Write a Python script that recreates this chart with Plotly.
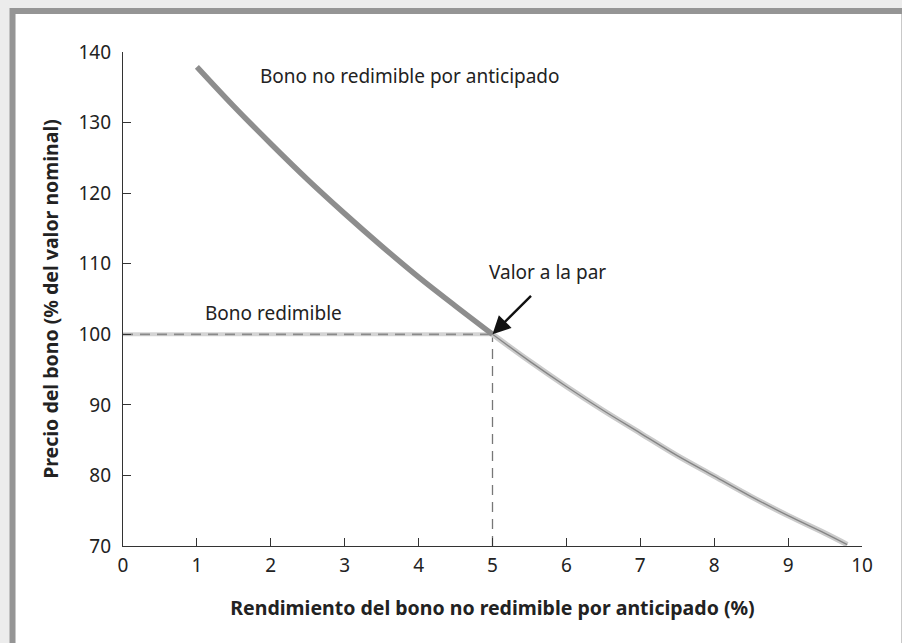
import plotly.graph_objects as go

# rendimiento (%) y precio (% del valor nominal)
rend_alto = [1.0, 1.5, 2.0, 2.5, 3.0, 3.5, 4.0, 4.5, 5.0]
precio_alto = [137.9, 132.3, 127.0, 121.9, 117.1, 112.5, 108.1, 104.0, 100.0]
rend_bajo = [5.0, 5.5, 6.0, 6.5, 7.0, 7.5, 8.0, 8.5, 9.0, 9.5, 9.8]
precio_bajo = [100.0, 96.2, 92.6, 89.2, 86.0, 82.8, 79.9, 77.0, 74.3, 71.8, 70.2]
par_x = [0, 5]
par_y = [100, 100]
vert_x = [5, 5]
vert_y = [70, 100]

font = "Noto Sans"
fig = go.Figure()

# linea horizontal (bono redimible): banda clara + guiones
fig.add_trace(go.Scatter(x=par_x, y=par_y, mode="lines",
                         line=dict(color="#d4d4d4", width=4), hoverinfo="skip"))
fig.add_trace(go.Scatter(x=par_x, y=par_y, mode="lines",
                         line=dict(color="#8a8a8a", width=1.8, dash="10px,7px"), hoverinfo="skip"))
fig.add_trace(go.Scatter(x=vert_x, y=vert_y, mode="lines",
                         line=dict(color="#777777", width=1.3, dash="10px,7px"), hoverinfo="skip"))

# curva bono no redimible
fig.add_trace(go.Scatter(x=rend_bajo, y=precio_bajo, mode="lines",
                         line=dict(color="#cbcbcb", width=5.5, shape="spline"), hoverinfo="skip"))
fig.add_trace(go.Scatter(x=rend_bajo, y=precio_bajo, mode="lines",
                         line=dict(color="#858585", width=1.3, shape="spline"), hoverinfo="skip"))
fig.add_trace(go.Scatter(x=rend_alto, y=precio_alto, mode="lines",
                         line=dict(color="#8d8d8d", width=5.5, shape="spline"), hoverinfo="skip"))

# marco gris (borde derecho casi fuera de la imagen)
fig.add_shape(type="rect", xref="paper", yref="paper",
              x0=-0.1495, x1=1.0575, y0=-0.25, y1=1.083,
              line=dict(color="#959595", width=6), fillcolor="white", layer="below")

fig.add_annotation(x=1.83, y=136.6, text="Bono no redimible por anticipado", showarrow=False,
                   xanchor="left", yanchor="middle", font=dict(size=19, color="#222222", family=font))
fig.add_annotation(x=1.08, y=103.0, text="Bono redimible", showarrow=False,
                   xanchor="left", yanchor="middle", font=dict(size=19, color="#222222", family=font))
fig.add_annotation(x=4.93, y=108.8, text="Valor a la par", showarrow=False,
                   xanchor="left", yanchor="middle", font=dict(size=19, color="#222222", family=font))
fig.add_annotation(x=5, y=100, ax=40, ay=-40, text="", showarrow=True,
                   arrowhead=2, arrowsize=1.5, arrowwidth=2.4, arrowcolor="#111111")

fig.update_layout(
    width=902, height=643,
    margin=dict(l=123, r=40, t=52, b=97),
    paper_bgcolor="#ececec", plot_bgcolor="rgba(0,0,0,0)",
    showlegend=False,
    font=dict(family=font, size=19, color="#222222"),
    xaxis=dict(range=[0, 10], dtick=1, tick0=0, showgrid=False, zeroline=False,
               showline=True, linecolor="#333333", linewidth=1.3,
               ticks="inside", ticklen=8, tickcolor="#333333", tickwidth=1.3,
               ticklabelstandoff=2,
               title=dict(text="<b>Rendimiento del bono no redimible por anticipado (%)</b>",
                          font=dict(size=19.5, family=font), standoff=24)),
    yaxis=dict(range=[70, 140], dtick=10, tick0=70, showgrid=False, zeroline=False,
               showline=True, linecolor="#333333", linewidth=1.3,
               ticks="inside", ticklen=8, tickcolor="#333333", tickwidth=1.3,
               ticklabelstandoff=7,
               title=dict(text="<b>Precio del bono (% del valor nominal)</b>",
                          font=dict(size=19.5, family=font), standoff=14)),
)

fig.write_html("out.html", config={"displayModeBar": False},
               post_script="document.body.style.margin='0';"
                           "document.body.style.background='#ececec';"
                           "document.body.style.overflow='hidden';")
